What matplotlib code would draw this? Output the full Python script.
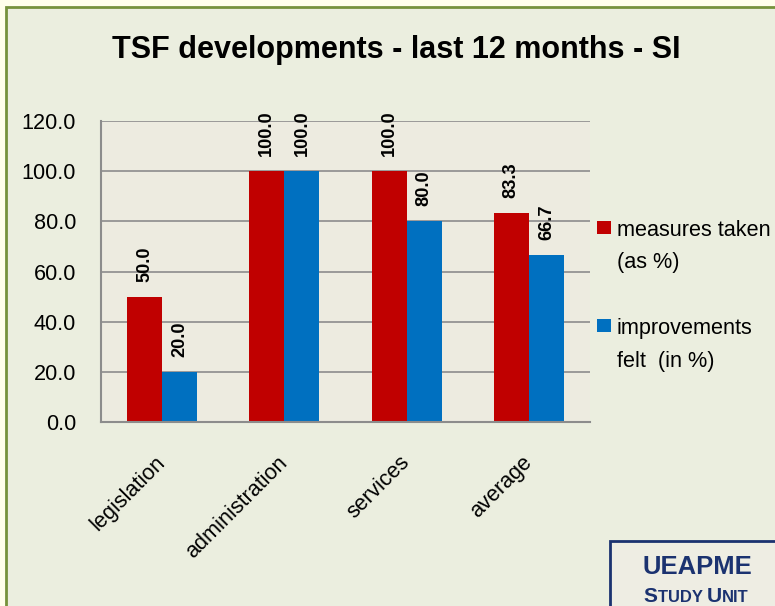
import matplotlib
matplotlib.use("Agg")
import matplotlib.pyplot as plt
from matplotlib import font_manager
from matplotlib.patches import Rectangle
import numpy as np

categories = ["legislation", "administration", "services", "average"]
measures = [50.0, 100.0, 100.0, 83.3]
improvements = [20.0, 100.0, 80.0, 66.7]
series_labels = ["measures taken\n(as %)", "improvements\nfelt  (in %)"]
yticks = [0, 20, 40, 60, 80, 100, 120]
title = "TSF developments - last 12 months - SI"

names = {f.name for f in font_manager.fontManager.ttflist}
if "Liberation Sans Narrow" in names:
    FONT = "Liberation Sans Narrow"
    S = 1.0
else:
    FONT = "Liberation Sans"
    S = 0.82
plt.rcParams["font.family"] = FONT

W, H = 775, 606
fig = plt.figure(figsize=(W / 100, H / 100), dpi=100)
fig.patch.set_facecolor("#FFFFEB")

def fx(px):
    return px / W

def fy(py):
    return 1 - py / H

# chart area frame
fig.patches.append(Rectangle((fx(6), fy(H + 20)), fx(W + 20), fy(7) - fy(H + 20),
                             transform=fig.transFigure, facecolor="#EBEEDF",
                             edgecolor="#76923C", lw=2, zorder=-5))

ax = fig.add_axes([fx(101), fy(422), fx(590) - fx(101), fy(121) - fy(422)])
ax.set_zorder(1)
ax.set_facecolor("#EDEBE0")

x = np.arange(len(categories))
w = 0.287
red, blue = "#C00000", "#0070C0"
b1 = ax.bar(x - w / 2, measures, w, color=red, label=series_labels[0], zorder=3)
b2 = ax.bar(x + w / 2, improvements, w, color=blue, label=series_labels[1], zorder=3)

for bars, vals in ((b1, measures), (b2, improvements)):
    for r, v in zip(bars, vals):
        ax.annotate(f"{v:.1f}", (r.get_x() + r.get_width() / 2, v),
                    xytext=(0, 15), textcoords="offset pixels",
                    rotation=90, ha="center", va="bottom",
                    fontsize=16 * S, fontweight="bold", annotation_clip=False,
                    clip_on=False, zorder=4)

ax.set_xlim(-0.5, len(categories) - 0.5)
ax.set_ylim(0, 120)
ax.set_yticks(yticks)
ax.set_yticklabels([f"{v:.1f}" for v in yticks], fontsize=19 * S)
ax.tick_params(axis="y", length=0, pad=18)
ax.set_xticks(x)
ax.set_xticklabels(categories, rotation=45, ha="right", va="center",
                   rotation_mode="anchor", fontsize=19 * S)
ax.tick_params(axis="x", length=0, pad=27)
ax.grid(axis="y", color="#8C8C8C", lw=1.2, zorder=1)
ax.set_axisbelow(True)
for s in ("top", "right"):
    ax.spines[s].set_visible(False)
for s in ("left", "bottom"):
    ax.spines[s].set_color("#8C8C8C")
    ax.spines[s].set_linewidth(1.5)
    ax.spines[s].set_zorder(4)

fig.text(fx(396), fy(50), title, ha="center", va="center",
         fontsize=26.8 * S, fontweight="bold")

# legend: square aligned with the first line of each label
legend_tops = [221, 319]
for bars, lab, top in zip((b1, b2), series_labels, legend_tops):
    fig.patches.append(Rectangle((fx(597), fy(top + 13)), fx(14), fy(top) - fy(top + 13),
                                 transform=fig.transFigure,
                                 facecolor=bars.patches[0].get_facecolor(),
                                 edgecolor="none", zorder=3))
    fig.text(fx(617), fy(top + 15.5 + 32), lab, ha="left", va="baseline",
             fontsize=19 * S, linespacing=1.73, zorder=3)

# logo box
navy = "#1B3270"
fig.patches.append(Rectangle((fx(610), fy(H + 20)), fx(W + 20) - fx(610), fy(541) - fy(H + 20),
                             transform=fig.transFigure, facecolor="#EEEDE3",
                             edgecolor=navy, lw=2, zorder=3))
fig.text(fx(697), fy(567), "UEAPME", ha="center", va="center", color=navy,
         fontsize=22.5 * S, fontweight="bold", zorder=5)

# small caps "STUDY UNIT"
pieces = [("S", 18.5), ("TUDY ", 14.5), ("U", 18.5), ("NIT", 14.5)]
fig.canvas.draw()
rend = fig.canvas.get_renderer()
txts = []
total = 0
for s, sz in pieces:
    t = fig.text(0, fy(602), s, ha="left", va="baseline", color=navy,
                 fontsize=sz * S, fontweight="bold", zorder=5)
    bb = t.get_window_extent(rend)
    txts.append((t, bb.width))
    total += bb.width
start = 696 - total / 2
for t, wdt in txts:
    t.set_x(fx(start))
    start += wdt

fig.savefig("out.png", dpi=100, facecolor=fig.get_facecolor())
